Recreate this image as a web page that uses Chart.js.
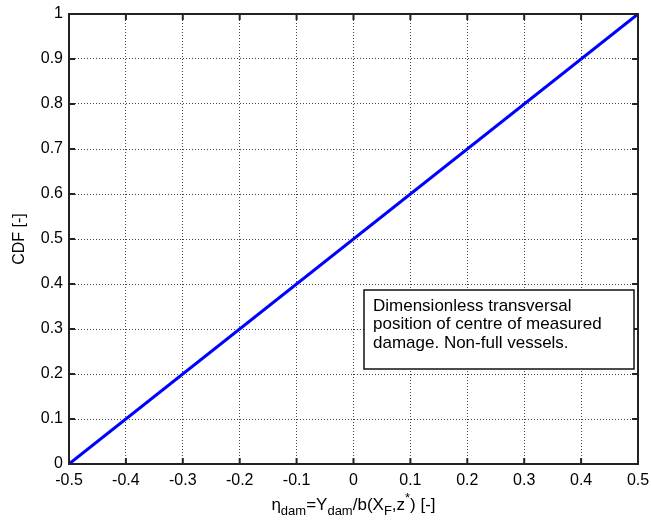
<!DOCTYPE html>
<html>
<head>
<meta charset="utf-8">
<script src="https://cdn.jsdelivr.net/npm/chart.js@4/dist/chart.umd.min.js"></script>
<style>
  html, body { margin: 0; padding: 0; background: #fff; }
  #wrap { width: 651px; height: 525px; }
</style>
</head>
<body>
<div id="wrap"><canvas id="chartCanvas" width="651" height="525"></canvas></div>
<script>
// data
const etaValues = [-0.5, 0.5];
const cdfValues = [0, 1];
const xTicks = [-0.5, -0.4, -0.3, -0.2, -0.1, 0, 0.1, 0.2, 0.3, 0.4, 0.5];
const yTicks = [0, 0.1, 0.2, 0.3, 0.4, 0.5, 0.6, 0.7, 0.8, 0.9, 1];
const noteLines = [
    "Dimensionless transversal",
    "position of centre of measured",
    "damage. Non-full vessels."
];

const FONT = "'Liberation Sans', Arial, sans-serif";

// frame, inward ticks, note box, x title with sub/superscripts
const matlabFrame = {
    id: "matlabFrame",
    afterDatasetsDraw(chart) {
        const { ctx, chartArea: a, scales } = chart;
        ctx.save();
        ctx.strokeStyle = "#222";
        ctx.lineWidth = 2;
        ctx.strokeRect(a.left, a.top, a.right - a.left, a.bottom - a.top);

        // inward ticks on all four sides
        ctx.beginPath();
        xTicks.forEach(v => {
            const x = scales.x.getPixelForValue(v);
            ctx.moveTo(x, a.bottom); ctx.lineTo(x, a.bottom - 6);
            ctx.moveTo(x, a.top); ctx.lineTo(x, a.top + 6);
        });
        yTicks.forEach(v => {
            const y = scales.y.getPixelForValue(v);
            ctx.moveTo(a.left, y); ctx.lineTo(a.left + 6, y);
            ctx.moveTo(a.right, y); ctx.lineTo(a.right - 6, y);
        });
        ctx.stroke();
        ctx.restore();
    },
    afterDraw(chart) {
        const { ctx, chartArea: a } = chart;
        ctx.save();

        // note box
        const bx = 364, by = 290, bw = 270, bh = 79;
        ctx.fillStyle = "#fff";
        ctx.fillRect(bx, by, bw, bh);
        ctx.strokeStyle = "#111";
        ctx.lineWidth = 1.5;
        ctx.strokeRect(bx, by, bw, bh);
        ctx.fillStyle = "#000";
        ctx.font = "17px " + FONT;
        ctx.textBaseline = "middle";
        ctx.textAlign = "left";
        noteLines.forEach((t, i) => ctx.fillText(t, 373, 306 + i * 18.5));

        // x axis title: η_dam=Y_dam/b(X_F,z^*) [-]
        const parts = [
            ["η", 0], ["dam", 1], ["=Y", 0], ["dam", 1], ["/b(X", 0], ["F", 1],
            [",z", 0], ["*", -1], [") [-]", 0]
        ];
        const big = "17px " + FONT, small = "13px " + FONT;
        let total = 0;
        parts.forEach(([t, k]) => { ctx.font = k ? small : big; total += ctx.measureText(t).width; });
        let x = (a.left + a.right) / 2 - total / 2;
        const base = 510;
        ctx.textBaseline = "alphabetic";
        parts.forEach(([t, k]) => {
            ctx.font = k ? small : big;
            const dy = k === 1 ? 5 : (k === -1 ? -8 : 0);
            ctx.fillText(t, x, base + dy);
            x += ctx.measureText(t).width;
        });
        ctx.restore();
    }
};

const ctx = document.getElementById("chartCanvas").getContext("2d");

new Chart(ctx, {
    type: "line",
    data: {
        datasets: [{
            data: etaValues.map((v, i) => ({ x: v, y: cdfValues[i] })),
            borderColor: "#0000ff",
            borderWidth: 3,
            pointRadius: 0,
            fill: false,
            tension: 0
        }]
    },
    options: {
        responsive: false,
        animation: false,
        layout: { padding: { top: 14, right: 13, left: 0, bottom: 0 } },
        plugins: {
            legend: { display: false },
            tooltip: { enabled: false }
        },
        scales: {
            x: {
                type: "linear",
                min: -0.5,
                max: 0.5,
                afterBuildTicks: s => { s.ticks = xTicks.map(v => ({ value: v })); },
                afterFit: s => { s.height = 61; s.paddingLeft = 0; s.paddingRight = 0; },
                grid: {
                    color: "#444",
                    lineWidth: 1,
                    drawTicks: false
                },
                border: { display: false, dash: [1, 2] },
                ticks: {
                    padding: 7,
                    color: "#000",
                    maxRotation: 0,
                    font: { family: FONT, size: 16 },
                    callback: v => String(Math.round(v * 10) / 10)
                }
            },
            y: {
                type: "linear",
                min: 0,
                max: 1,
                afterBuildTicks: s => { s.ticks = yTicks.map(v => ({ value: v })); },
                afterFit: s => { s.width = 69; s.paddingTop = 0; s.paddingBottom = 0; },
                grid: {
                    color: "#444",
                    lineWidth: 1,
                    drawTicks: false
                },
                border: { display: false, dash: [1, 2] },
                title: {
                    display: true,
                    text: "CDF [-]",
                    color: "#000",
                    font: { family: FONT, size: 16 },
                    padding: { top: 10, bottom: 0 }
                },
                ticks: {
                    padding: 6,
                    color: "#000",
                    font: { family: FONT, size: 16 },
                    callback: v => String(Math.round(v * 10) / 10)
                }
            }
        }
    },
    plugins: [matlabFrame]
});
</script>
</body>
</html>
